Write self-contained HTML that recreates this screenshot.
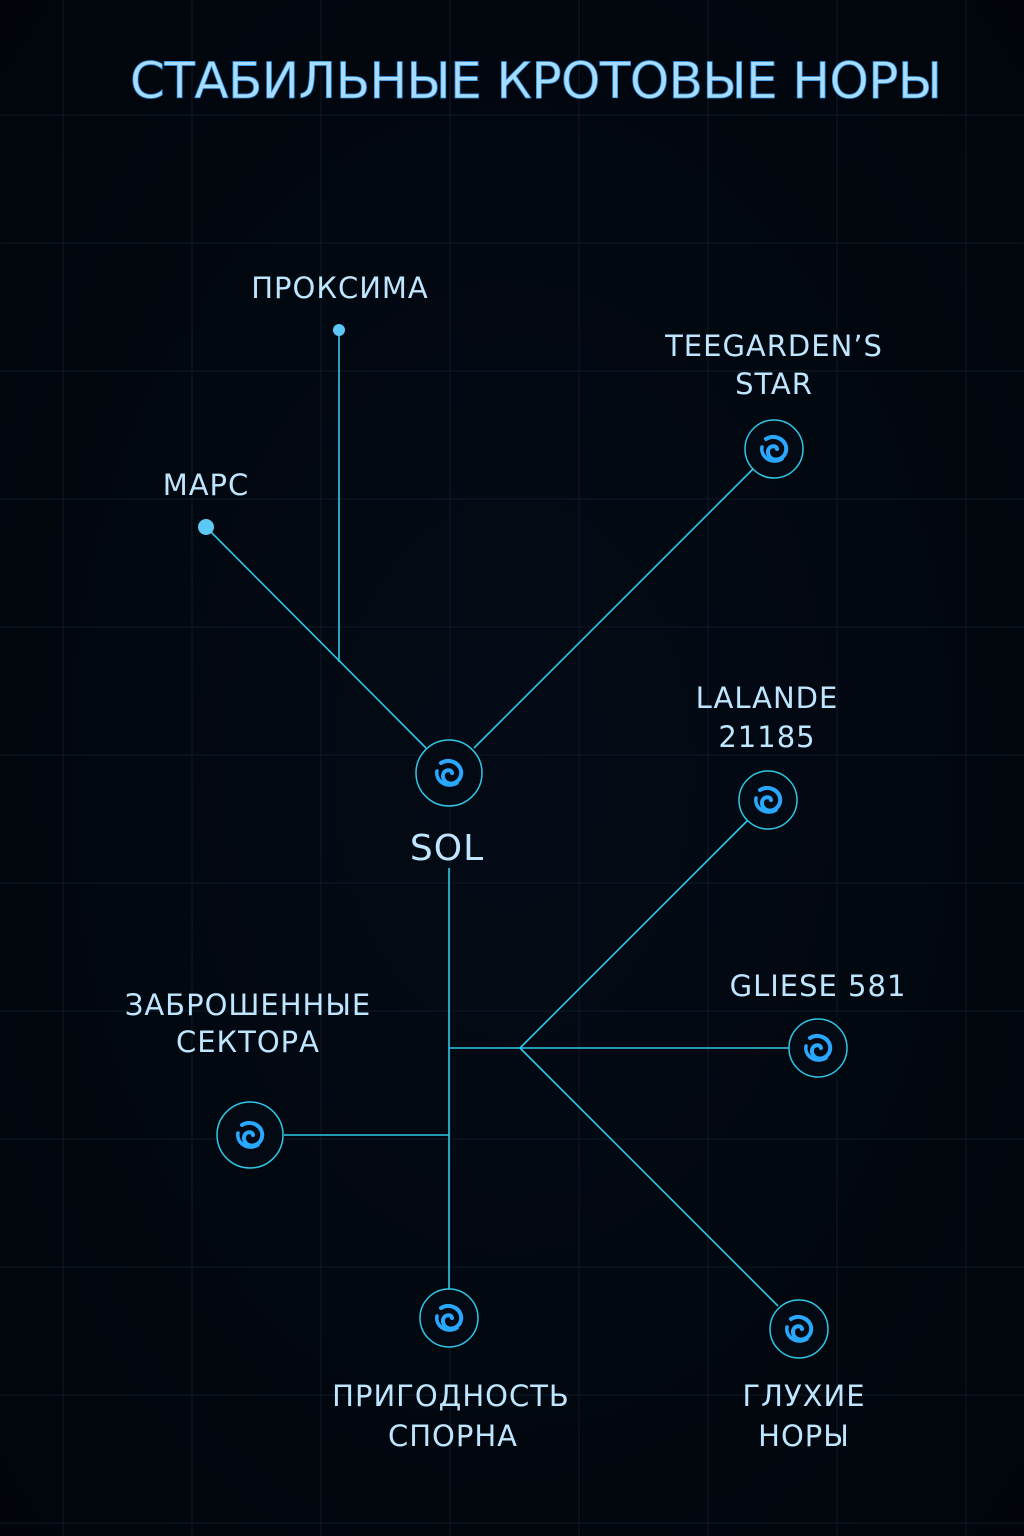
<!DOCTYPE html>
<html><head><meta charset="utf-8"><style>
html,body{margin:0;padding:0;background:#02070f;}
svg{display:block}
text{font-family:"DejaVu Sans","Liberation Sans",sans-serif;fill:#bfe6ff;}
</style></head><body>
<svg width="1024" height="1536" viewBox="0 0 1024 1536" xmlns="http://www.w3.org/2000/svg">
<defs>
<radialGradient id="bg" cx="50%" cy="50%" r="70%"><stop offset="0" stop-color="#040b16"/><stop offset="1" stop-color="#01050b"/></radialGradient>
<g id="sp">
<path d="M-8,-10 C2,-16 14,-8 12,2 C10,12 -4,14 -6,4 C-7,-3 2,-5 3,0" fill="none" stroke="#2aa8ff" stroke-width="4" stroke-linecap="round"/>
<path d="M8,10 C-2,16 -14,8 -12,-2" fill="none" stroke="#2aa8ff" stroke-width="3.5" stroke-linecap="round"/>
</g>
<g id="node"><circle r="29" fill="#030a14" stroke="#2ec8e6" stroke-width="1.5"/><use href="#sp"/></g>
<g id="nodeb"><circle r="33" fill="#030a14" stroke="#2ec8e6" stroke-width="1.5"/><use href="#sp"/></g>
</defs>
<rect width="1024" height="1536" fill="url(#bg)"/>
<g stroke="#0c1a28" stroke-width="1">
<line x1="63" y1="0" x2="63" y2="1536"/><line x1="192" y1="0" x2="192" y2="1536"/><line x1="321" y1="0" x2="321" y2="1536"/><line x1="450" y1="0" x2="450" y2="1536"/><line x1="579" y1="0" x2="579" y2="1536"/><line x1="708" y1="0" x2="708" y2="1536"/><line x1="837" y1="0" x2="837" y2="1536"/><line x1="966" y1="0" x2="966" y2="1536"/>
<line x1="0" y1="115" x2="1024" y2="115"/><line x1="0" y1="243" x2="1024" y2="243"/><line x1="0" y1="371" x2="1024" y2="371"/><line x1="0" y1="499" x2="1024" y2="499"/><line x1="0" y1="627" x2="1024" y2="627"/><line x1="0" y1="755" x2="1024" y2="755"/><line x1="0" y1="883" x2="1024" y2="883"/><line x1="0" y1="1011" x2="1024" y2="1011"/><line x1="0" y1="1139" x2="1024" y2="1139"/><line x1="0" y1="1267" x2="1024" y2="1267"/><line x1="0" y1="1395" x2="1024" y2="1395"/><line x1="0" y1="1523" x2="1024" y2="1523"/>
</g>
<text x="536" y="98" text-anchor="middle" font-size="50" textLength="812" style="fill:#a8dcff;stroke:#2a90e0;stroke-width:0.8">СТАБИЛЬНЫЕ КРОТОВЫЕ НОРЫ</text>
<g stroke="#2ec8e6" stroke-width="1.6" fill="none">
<line x1="206" y1="527" x2="426" y2="748"/>
<line x1="339" y1="330" x2="339" y2="662"/>
<line x1="474" y1="748" x2="753" y2="469"/>
<line x1="449" y1="868" x2="449" y2="1290"/>
<line x1="449" y1="1048" x2="790" y2="1048"/>
<line x1="520" y1="1048" x2="748" y2="820"/>
<line x1="520" y1="1048" x2="778" y2="1306"/>
<line x1="284" y1="1135" x2="449" y2="1135"/>
</g>
<circle cx="206" cy="527" r="8" fill="#5cc8f5"/>
<circle cx="339" cy="330" r="6" fill="#5cc8f5"/>
<use href="#nodeb" x="449" y="773"/>
<use href="#node" x="774" y="449"/>
<use href="#node" x="768" y="800"/>
<use href="#node" x="818" y="1048"/>
<use href="#nodeb" x="250" y="1135"/>
<use href="#node" x="449" y="1318"/>
<use href="#node" x="799" y="1329"/>
<g font-size="29" letter-spacing="1" text-anchor="middle">
<text x="340" y="298">ПРОКСИМА</text>
<text x="206" y="495">МАРС</text>
<text x="774" y="356">TEEGARDEN’S</text>
<text x="774" y="394">STAR</text>
<text x="767" y="708">LALANDE</text>
<text x="767" y="747">21185</text>
<text x="447" y="860" font-size="36">SOL</text>
<text x="818" y="996">GLIESE 581</text>
<text x="248" y="1015">ЗАБРОШЕННЫЕ</text>
<text x="248" y="1052">СЕКТОРА</text>
<text x="451" y="1406">ПРИГОДНОСТЬ</text>
<text x="453" y="1446">СПОРНА</text>
<text x="804" y="1406">ГЛУХИЕ</text>
<text x="804" y="1446">НОРЫ</text>
</g>
</svg>
</body></html>
